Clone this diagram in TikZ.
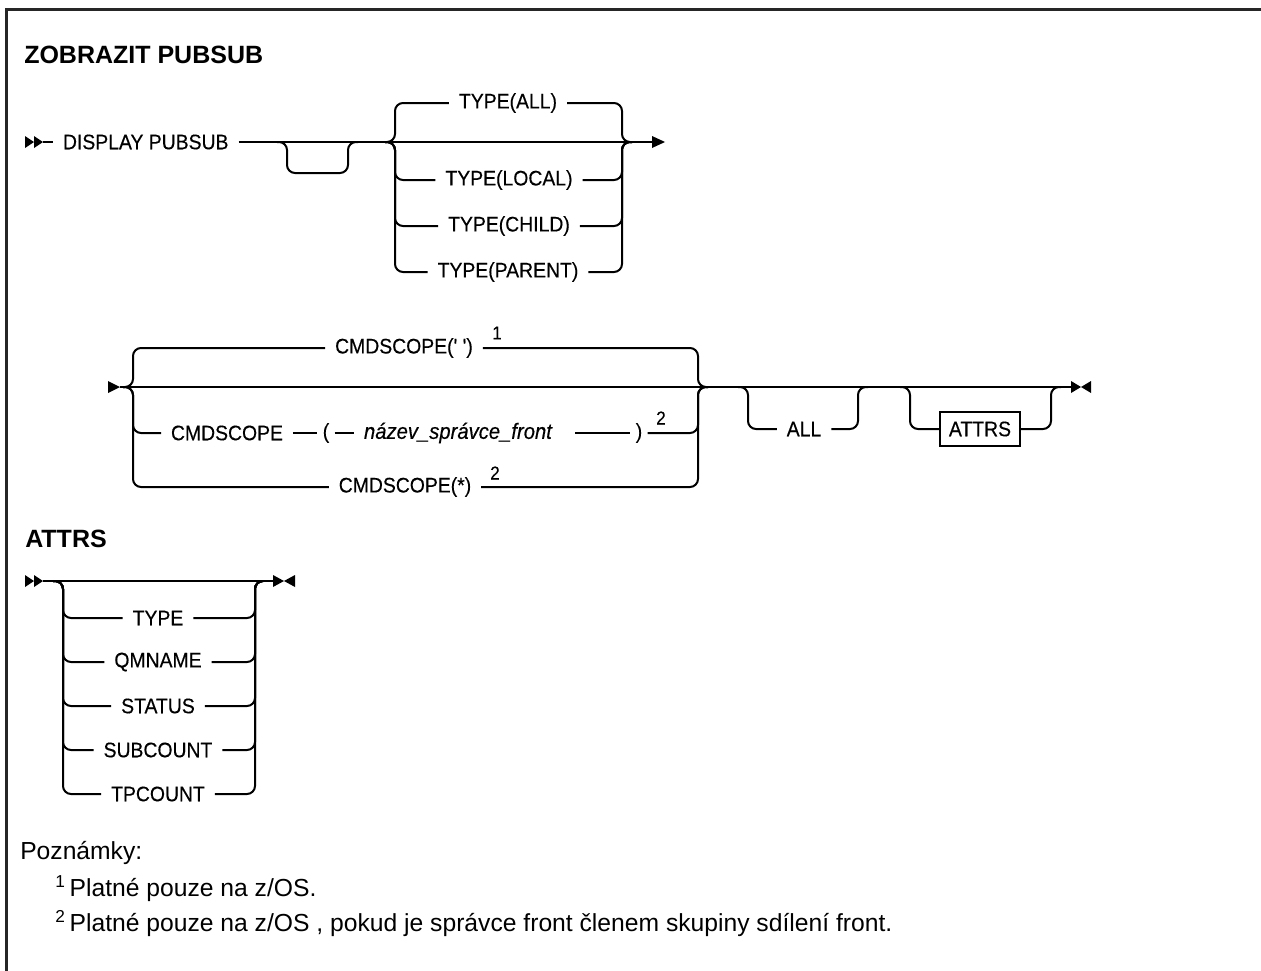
\documentclass[tikz,border=0pt]{standalone}
\usepackage{fontspec}
\setmainfont{Liberation Sans}
\newfontfamily\labfont{Liberation Sans}[FakeStretch=0.92, FakeBold=0.35]
\usetikzlibrary{calc}
\begin{document}
\begin{tikzpicture}[x=0.75pt,y=-0.75pt,
  rail/.style={line width=1.5pt, rounded corners=6pt},
  lbl/.style={font=\labfont\fontsize{15.8}{18}\selectfont, inner xsep=7.5pt, inner ysep=1pt, outer sep=0pt},
  punct/.style={lbl, inner xsep=4pt},
  itlbl/.style={lbl, font=\labfont\itshape\fontsize{16.5}{18}\selectfont},
  supn/.style={font=\labfont\fontsize{14}{16}\selectfont, inner sep=0pt},
  ttl/.style={font=\fontsize{18.75}{22}\selectfont\bfseries, inner sep=0pt, anchor=base west},
  framel/.style={line width=2.2pt, draw=black!85},
  notetxt/.style={font=\fontsize{18.5}{21}\selectfont, inner sep=0pt, anchor=base west},
  attrbox/.style={lbl, draw, line width=1.3pt, inner xsep=6.5pt, minimum height=26pt}
]
\useasboundingbox (0,0) rectangle (1261,971);
% frame
\draw[framel] (6.5,975) -- (6.5,9.5) -- (1265,9.5);

% ---------------- title
\node[ttl] (t1) at (24,63) {ZOBRAZIT PUBSUB};

% ---------------- row 1
\fill (25,136) -- (34,142) -- (25,148) -- cycle;
\fill (34,136) -- (43,142) -- (34,148) -- cycle;
\coordinate (r1a) at (43,142);
\node[lbl, anchor=west] (disp) at (53,142) {DISPLAY PUBSUB};
\coordinate (r1z) at (652,142);
\draw[rail] (r1a) -- (disp.west);
\draw[rail] (disp.east) -- (r1z);
\fill (652,136) -- (665,142) -- (652,148) -- cycle;
% empty optional loop
\draw[rail] (277,142) -- (287,142) -- (287,173) -- (348,173) -- (348,142) -- (358,142);
% TYPE choice
\coordinate (g1L) at (385,142);
\coordinate (g1R) at (632,142);
\node[lbl] (tall) at (508,103) {TYPE(ALL)};
\node[lbl] (tloc) at (509,180) {TYPE(LOCAL)};
\node[lbl] (tchi) at (509,226) {TYPE(CHILD)};
\node[lbl] (tpar) at (508,272) {TYPE(PARENT)};
\foreach \n in {tall,tloc,tchi,tpar}{
  \draw[rail] (g1L) -- ++(10,0) |- (\n.west);
  \draw[rail] (\n.east) -| ($(g1R)+(-10,0)$) -- (g1R);
}

% ---------------- row 2
\fill (108,381) -- (120,387) -- (108,393) -- cycle;
\coordinate (r2a) at (120,387);
\coordinate (g2L) at (123,387);
\coordinate (g2R) at (708,387);
\coordinate (r2z) at (1071,387);
\draw[rail] (r2a) -- (r2z);
\node[lbl] (c1) at (404,348) {CMDSCOPE(' ')};
\node[supn] (n1) at (497,333) {1};
\node[lbl] (c2a) at (227,433) {CMDSCOPE};
\node[punct] (c2b) at (326,433) {(};
\node[itlbl, anchor=west] (c2c) at (354,433) {název\_správce\_front\hspace*{10pt}};
\node[punct] (c2d) at (639,433) {)};
\node[supn] (n2) at (661,418) {2};
\node[lbl] (c3) at (405,487) {CMDSCOPE(*)};
\node[supn] (n3) at (495,473) {2};
\foreach \n in {c1,c3}{
  \draw[rail] (g2L) -- ++(10,0) |- (\n.west);
  \draw[rail] (\n.east) -| ($(g2R)+(-10,0)$) -- (g2R);
}
\draw[rail] (g2L) -- ++(10,0) |- (c2a.west);
\draw[rail] (c2a.east) -- (c2b.west);
\draw[rail] (c2b.east) -- (c2c.west);
\draw[rail] (c2c.east) -- (c2d.west);
\draw[rail] (c2d.east) -| ($(g2R)+(-10,0)$) -- (g2R);
% ALL loop
\coordinate (aL) at (738,387);
\coordinate (aR) at (868,387);
\node[lbl] (all) at (804,429) {ALL};
\draw[rail] (aL) -- ++(10,0) |- (all.west);
\draw[rail] (all.east) -| ($(aR)+(-10,0)$) -- (aR);
% ATTRS loop
\coordinate (bL) at (900,387);
\coordinate (bR) at (1061,387);
\node[attrbox] (attr) at (980,429) {ATTRS};
\draw[rail] (bL) -- ++(10,0) |- (attr.west);
\draw[rail] (attr.east) -| ($(bR)+(-10,0)$) -- (bR);
% end
\fill (1071,381) -- (1081,387) -- (1071,393) -- cycle;
\fill (1091,381) -- (1081,387) -- (1091,393) -- cycle;

% ---------------- ATTRS fragment
\node[ttl] (t2) at (25,547) {ATTRS};
\fill (25,575) -- (34,581) -- (25,587) -- cycle;
\fill (34,575) -- (43,581) -- (34,587) -- cycle;
\coordinate (r3a) at (43,581);
\coordinate (r3z) at (273,581);
\coordinate (g3L) at (53,581);
\coordinate (g3R) at (263,581);
\draw[rail] (r3a) -- (r3z);
\node[lbl] (p1) at (158,618) {TYPE};
\node[lbl] (p2) at (158,662) {QMNAME};
\node[lbl] (p3) at (158,706) {STATUS};
\node[lbl] (p4) at (158,750) {SUBCOUNT};
\node[lbl] (p5) at (158,794) {TPCOUNT};
\foreach \n in {p1,p2,p3,p4,p5}{
  \draw[rail] (g3L) -- ++(10,0) |- (\n.west);
  \draw[rail] (\n.east) -| ($(g3R)+(-8,0)$) -- (g3R);
}
\fill (273,575) -- (284,581) -- (273,587) -- cycle;
\fill (295,575) -- (284,581) -- (295,587) -- cycle;

% ---------------- notes
\node[notetxt] (pz) at (20,859) {Poznámky:};
\node[notetxt] (nt1) at (55,896) {\textsuperscript{1}\,Platné pouze na z/OS.};
\node[notetxt] (nt2) at (55,931) {\textsuperscript{2}\,Platné pouze na z/OS , pokud je správce front členem skupiny sdílení front.};
\end{tikzpicture}
\end{document}
